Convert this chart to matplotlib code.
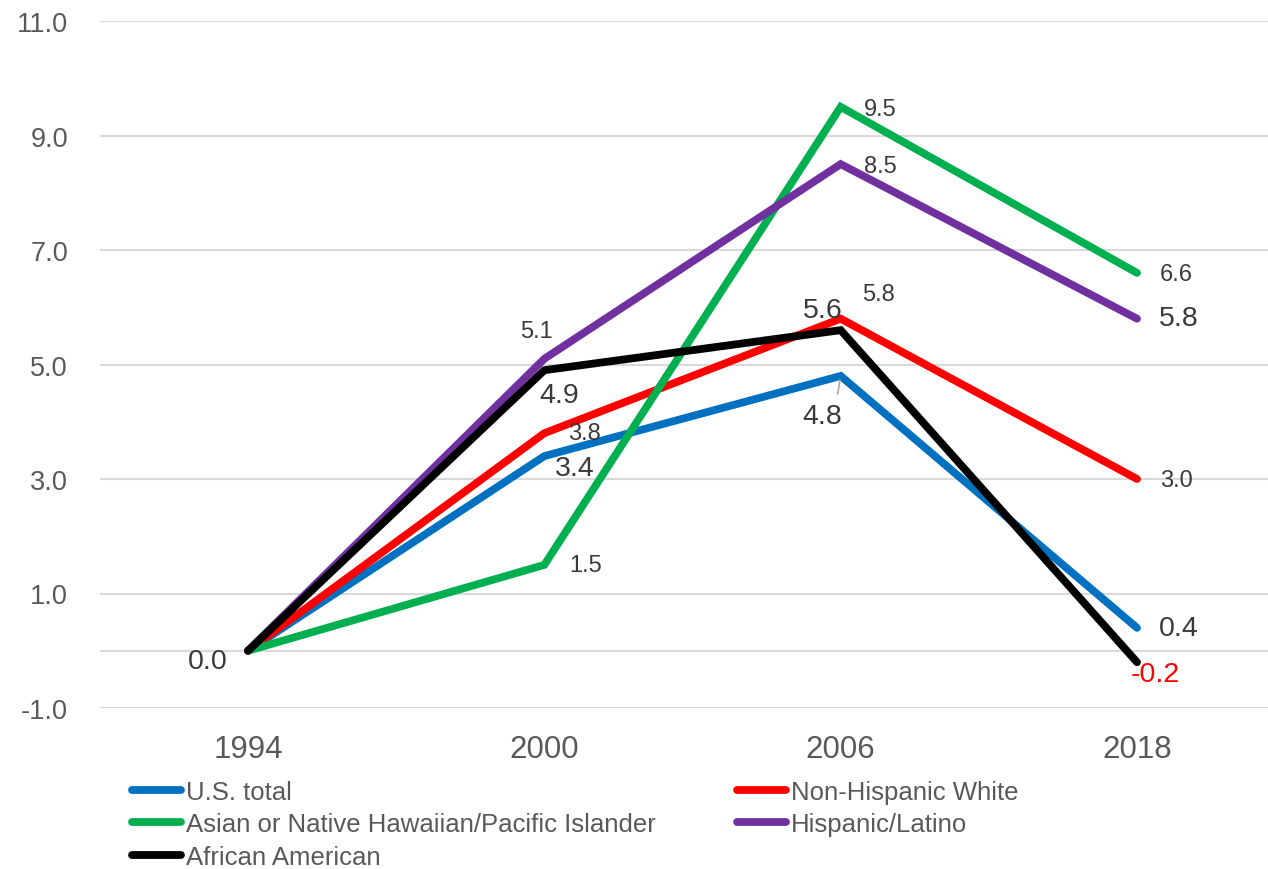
import matplotlib
matplotlib.use("Agg")
import matplotlib.pyplot as plt

plt.rcParams['font.family'] = ['Liberation Sans', 'DejaVu Sans']

years = ["1994", "2000", "2006", "2018"]
us_total = [0.0, 3.4, 4.8, 0.4]
nh_white = [0.0, 3.8, 5.8, 3.0]
asian_nhpi = [0.0, 1.5, 9.5, 6.6]
hispanic = [0.0, 5.1, 8.5, 5.8]
african_am = [0.0, 4.9, 5.6, -0.2]
y_ticks = [-1.0, 1.0, 3.0, 5.0, 7.0, 9.0, 11.0]

series = [
    ("U.S. total", us_total, "#0070C0"),
    ("Non-Hispanic White", nh_white, "#FF0000"),
    ("Asian or Native Hawaiian/Pacific Islander", asian_nhpi, "#00B050"),
    ("Hispanic/Latino", hispanic, "#7030A0"),
    ("African American", african_am, "#000000"),
]

fig = plt.figure(figsize=(12.68, 8.70), dpi=100)
ax = fig.add_axes([100/1268, (870-709)/870, 1 - 100/1268, (709-22)/870])
x = list(range(len(years)))

handles = {}
for name, vals, col in series:
    ln, = ax.plot(x, vals, color=col, lw=5.6, solid_capstyle='round',
                  solid_joinstyle='miter', label=name, zorder=3)
    handles[name] = ln

ax.set_xlim(-0.4994, 3.442)
ax.set_ylim(-1, 11)
ax.set_yticks(y_ticks)
ax.set_yticklabels([f"{v:.1f}" for v in y_ticks])
ax.set_xticks(x)
ax.set_xticklabels(years)
ax.grid(axis='y', color='#D9D9D9', lw=1.5, zorder=0)
ax.axhline(0, color='#D9D9D9', lw=1.5, zorder=1)
ax.tick_params(axis='both', length=0)
ax.tick_params(axis='y', pad=23, labelsize=19.5, labelcolor='#595959')
ax.tick_params(axis='x', pad=19, labelsize=22.5, labelcolor='#595959')
for s in ax.spines.values():
    s.set_visible(False)

# data labels: (series values, index, dx, dy, size, color)
LBL = '#3A3A3A'
BIG, SMALL = 20.5, 17
labels = [
    (us_total, 0, -40, -10, BIG, LBL),
    (us_total, 1, 30, -12, BIG, LBL),
    (nh_white, 1, 40, 0, SMALL, LBL),
    (asian_nhpi, 1, 41, 0, SMALL, LBL),
    (hispanic, 1, -8, 28, SMALL, LBL),
    (african_am, 1, 15, -25, BIG, LBL),
    (african_am, 2, -18, 20, BIG, LBL),
    (nh_white, 2, 38, 25, SMALL, LBL),
    (us_total, 2, -18, -40, BIG, LBL),
    (asian_nhpi, 2, 40, -2, SMALL, LBL),
    (hispanic, 2, 40, -2, SMALL, LBL),
    (asian_nhpi, 3, 39, -1, SMALL, LBL),
    (hispanic, 3, 42, 1, BIG, LBL),
    (nh_white, 3, 39, -1, SMALL, LBL),
    (us_total, 3, 42, 0, BIG, LBL),
    (african_am, 3, 18, -12, BIG, '#FF0000'),
]
for vals, i, dx, dy, fs, col in labels:
    ax.annotate(f"{vals[i]:.1f}", (x[i], vals[i]), xytext=(dx, dy),
                textcoords='offset pixels', ha='center', va='center',
                fontsize=fs, color=col, zorder=5)

# leader line for 4.8
ax.annotate("", (x[2], us_total[2]), xytext=(-3, -18), textcoords='offset pixels',
            arrowprops=dict(arrowstyle='-', color='#A6A6A6', lw=1.2,
                            shrinkA=0, shrinkB=3), zorder=4)

LEG_FS = 18.5
leg_kw = dict(frameon=False, borderpad=0, borderaxespad=0, handlelength=1.9,
              handletextpad=0.2, labelspacing=0.33,
              prop={'size': LEG_FS}, labelcolor='#595959')
col1 = ["U.S. total", "Asian or Native Hawaiian/Pacific Islander", "African American"]
col2 = ["Non-Hispanic White", "Hispanic/Latino"]
leg1 = fig.legend([handles[n] for n in col1], col1, loc='upper left',
                  bbox_to_anchor=(132/1268, 1 - 781/870), **leg_kw)
leg2 = fig.legend([handles[n] for n in col2], col2, loc='upper left',
                  bbox_to_anchor=(737/1268, 1 - 781/870), **leg_kw)

fig.savefig("out.png", dpi=100)
